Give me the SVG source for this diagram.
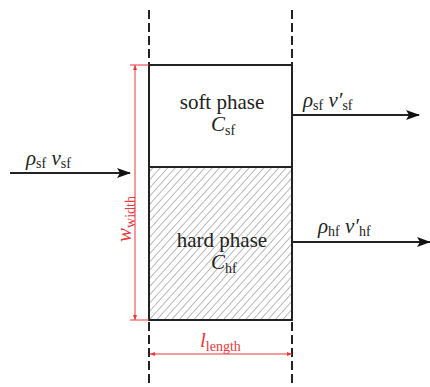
<svg xmlns="http://www.w3.org/2000/svg" width="430" height="387" viewBox="0 0 430 387">
<defs>
<style>
.sub{font-size:14px;font-style:normal}
.dash{stroke:#222;stroke-width:2;stroke-dasharray:9,4;fill:none}
.box{stroke:#222;stroke-width:2;fill:none}
.arr{stroke:#222;stroke-width:2;fill:none}
.dim{stroke:#e8393c;stroke-width:1;fill:none}
</style>
<pattern id="hatch" patternUnits="userSpaceOnUse" width="5.5" height="5.5" patternTransform="rotate(42)">
<line x1="0" y1="0" x2="0" y2="5.5" stroke="#666" stroke-width="0.9"/>
</pattern>
<marker id="ah" markerWidth="14" markerHeight="10" refX="13" refY="5" orient="auto" markerUnits="userSpaceOnUse">
<path d="M0,0 L14,5 L0,10 L3,5 Z" fill="#111"/>
</marker>
<marker id="rt" markerWidth="6" markerHeight="6" refX="5" refY="3" orient="auto" markerUnits="userSpaceOnUse">
<path d="M0,1 L5,3 L0,5 Z" fill="#e8393c"/>
</marker>
</defs>
<g id="boundaries">
<line class="dash" x1="149" y1="10" x2="149" y2="387"/>
<line class="dash" x1="292" y1="10" x2="292" y2="387"/>
</g>
<g id="hard-phase">
<rect x="149" y="167" width="143" height="153" fill="url(#hatch)"/>
<rect class="box" x="149" y="167" width="143" height="153"/>
<text x="222" y="247" font-size="21" font-family="Liberation Serif" fill="#222" text-anchor="middle">hard phase</text>
<text x="211" y="269" font-size="21" font-family="Liberation Serif" fill="#222" font-style="italic">C<tspan class="sub" dy="4">hf</tspan></text>
</g>
<g id="soft-phase">
<rect class="box" x="149" y="65" width="143" height="102"/>
<text x="222" y="109" font-size="21" font-family="Liberation Serif" fill="#222" text-anchor="middle">soft phase</text>
<text x="211" y="131" font-size="21" font-family="Liberation Serif" fill="#222" font-style="italic">C<tspan class="sub" dy="4">sf</tspan></text>
</g>
<g id="connectors">
<line class="arr" x1="10" y1="173" x2="130" y2="173" marker-end="url(#ah)"/>
<line class="arr" x1="292" y1="115" x2="419" y2="115" marker-end="url(#ah)"/>
<line class="arr" x1="292" y1="242" x2="430" y2="242" marker-end="url(#ah)"/>
<line class="dim" x1="130" y1="65" x2="149" y2="65"/>
<line class="dim" x1="130" y1="320" x2="149" y2="320"/>
<line class="dim" x1="135" y1="160" x2="135" y2="65" marker-end="url(#rt)"/>
<line class="dim" x1="135" y1="250" x2="135" y2="320" marker-end="url(#rt)"/>
<line class="dim" x1="135" y1="160" x2="135" y2="250"/>
<line class="dim" x1="221" y1="354" x2="150" y2="354" marker-end="url(#rt)"/>
<line class="dim" x1="221" y1="354" x2="292" y2="354" marker-end="url(#rt)"/>
</g>
<g id="labels">
<text x="26" y="165" font-size="21" font-family="Liberation Serif" fill="#222" font-style="italic">ρ<tspan class="sub" dy="3">sf</tspan><tspan dy="-3"> v</tspan><tspan class="sub" dy="3">sf</tspan></text>
<text x="303" y="107" font-size="21" font-family="Liberation Serif" fill="#222" font-style="italic">ρ<tspan class="sub" dy="3">sf</tspan><tspan dy="-3"> v′</tspan><tspan class="sub" dy="3">sf</tspan></text>
<text x="318" y="233" font-size="21" font-family="Liberation Serif" fill="#222" font-style="italic">ρ<tspan class="sub" dy="3">hf</tspan><tspan dy="-3"> v′</tspan><tspan class="sub" dy="3">hf</tspan></text>
<text transform="translate(131,242) rotate(-90)" font-size="21" font-family="Liberation Serif" fill="#e8393c" font-style="italic">w<tspan class="sub" dy="4">width</tspan></text>
<text x="200" y="347" font-size="21" font-family="Liberation Serif" fill="#e8393c" font-style="italic">l<tspan class="sub" dy="4">length</tspan></text>
</g>
</svg>
